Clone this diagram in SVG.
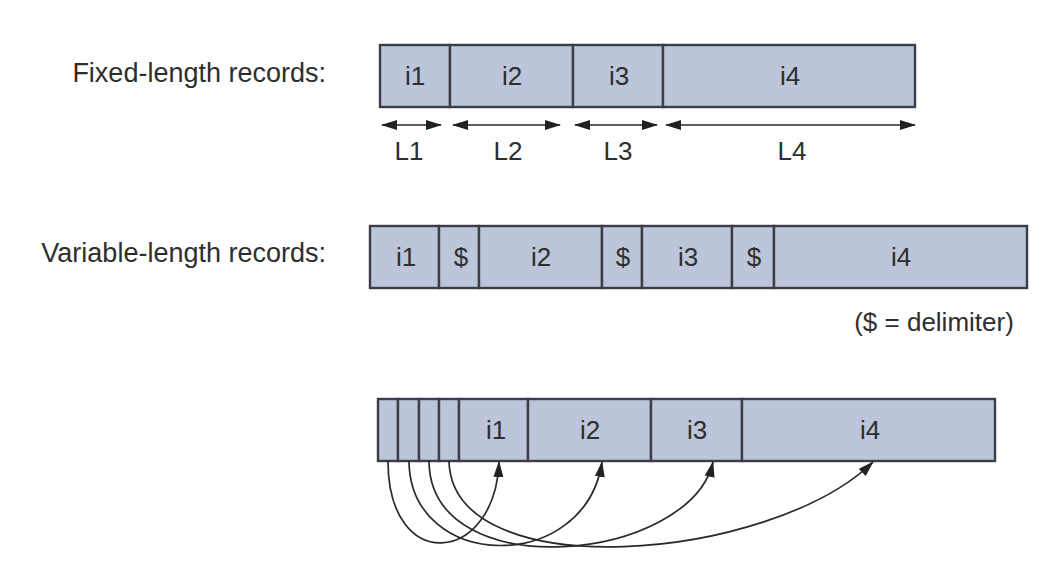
<svg xmlns="http://www.w3.org/2000/svg" width="1064" height="570" viewBox="0 0 1064 570">
<style>
.box{fill:#bcc5d9;stroke:#3b3e46;stroke-width:2.4}
.t{font-family:"Liberation Sans",Arial,sans-serif;font-size:26px;fill:#2e2e2e;text-anchor:middle}
.lab{font-family:"Liberation Sans",Arial,sans-serif;font-size:27px;fill:#2e2e2e;text-anchor:end}
.ln{fill:none;stroke:#2a2a2a;stroke-width:1.7}
</style>
<defs>
<marker id="ah" viewBox="0 0 16 10" refX="15" refY="5" markerWidth="16" markerHeight="10" markerUnits="userSpaceOnUse" orient="auto-start-reverse">
<path d="M0,0 L16,5 L0,10 z" fill="#222"/>
</marker>
</defs>
<rect width="1064" height="570" fill="#fff"/>

<g id="labels">
<text class="lab" x="326" y="82">Fixed-length records:</text>
<text class="lab" x="326" y="262">Variable-length records:</text>
<text class="t" x="934" y="331">($ = delimiter)</text>
</g>

<g id="fixed">
<rect class="box" x="380" y="45" width="70" height="62"/>
<rect class="box" x="450" y="45" width="123" height="62"/>
<rect class="box" x="573" y="45" width="90" height="62"/>
<rect class="box" x="663" y="45" width="252" height="62"/>
<text class="t" x="415" y="85">i1</text>
<text class="t" x="512" y="85">i2</text>
<text class="t" x="619" y="85">i3</text>
<text class="t" x="790" y="85">i4</text>
<text class="t" x="409" y="160">L1</text>
<text class="t" x="508" y="160">L2</text>
<text class="t" x="618" y="160">L3</text>
<text class="t" x="792" y="160">L4</text>
</g>

<g id="variable">
<rect class="box" x="370" y="226" width="69" height="62"/>
<rect class="box" x="439" y="226" width="40" height="62"/>
<rect class="box" x="479" y="226" width="123" height="62"/>
<rect class="box" x="602" y="226" width="40" height="62"/>
<rect class="box" x="642" y="226" width="90" height="62"/>
<rect class="box" x="732" y="226" width="42" height="62"/>
<rect class="box" x="774" y="226" width="253" height="62"/>
<text class="t" x="406" y="266">i1</text>
<text class="t" x="461" y="266">$</text>
<text class="t" x="541" y="266">i2</text>
<text class="t" x="623" y="266">$</text>
<text class="t" x="688" y="266">i3</text>
<text class="t" x="754" y="266">$</text>
<text class="t" x="901" y="266">i4</text>
</g>

<g id="indexed">
<rect class="box" x="378" y="399" width="20" height="62"/>
<rect class="box" x="398" y="399" width="21" height="62"/>
<rect class="box" x="419" y="399" width="20" height="62"/>
<rect class="box" x="439" y="399" width="20" height="62"/>
<rect class="box" x="459" y="399" width="69" height="62"/>
<rect class="box" x="528" y="399" width="123" height="62"/>
<rect class="box" x="651" y="399" width="91" height="62"/>
<rect class="box" x="742" y="399" width="253" height="62"/>
<text class="t" x="496" y="439">i1</text>
<text class="t" x="590" y="439">i2</text>
<text class="t" x="697" y="439">i3</text>
<text class="t" x="870" y="439">i4</text>
</g>

<g id="connectors">
<line class="ln" x1="382" y1="125" x2="441" y2="125" marker-start="url(#ah)" marker-end="url(#ah)"/>
<line class="ln" x1="453" y1="125" x2="560" y2="125" marker-start="url(#ah)" marker-end="url(#ah)"/>
<line class="ln" x1="575" y1="125" x2="657" y2="125" marker-start="url(#ah)" marker-end="url(#ah)"/>
<line class="ln" x1="666" y1="125" x2="915" y2="125" marker-start="url(#ah)" marker-end="url(#ah)"/>
<path class="ln" d="M388,461 C388,575 495,565 499,462" marker-end="url(#ah)"/>
<path class="ln" d="M409,461 C410,572 585,575 602,462" marker-end="url(#ah)"/>
<path class="ln" d="M429,461 C430,588 690,562 713,462" marker-end="url(#ah)"/>
<path class="ln" d="M449,461 C452,588 770,562 873,462" marker-end="url(#ah)"/>
</g>
</svg>
